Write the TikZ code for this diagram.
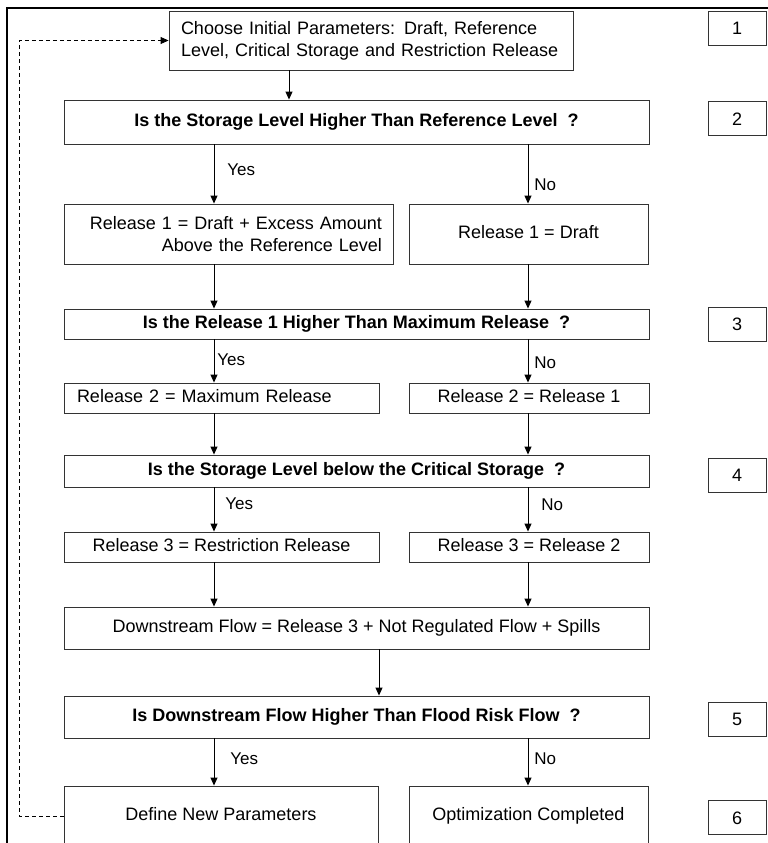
\documentclass[tikz,border=0pt]{standalone}
\usepackage{fontspec}
\setmainfont{Liberation Sans}
\usetikzlibrary{arrows.meta}

\begin{document}
\begin{tikzpicture}[x=1pt, y=-1pt,
      box/.style={draw=black!80, line width=0.9pt, fill=white,
        font=\fontsize{18}{22}\selectfont, inner xsep=12pt, inner ysep=0pt},
      cell/.style={box, text height=13pt, text depth=4pt},
      qbox/.style={cell, font=\fontsize{18}{22}\selectfont\bfseries, minimum width=585pt},
      numbox/.style={cell, text depth=0pt, minimum width=58pt, minimum height=34pt, inner sep=0pt},
      msg/.style={-{Triangle[length=8pt,width=7pt]}, line width=0.9pt, draw=black},
      back/.style={msg, dash pattern=on 4pt off 3pt},
      lbl/.style={font=\fontsize{17}{20}\selectfont, anchor=west, inner sep=0pt},
      frame/.style={line width=2.5pt, draw=black}
    ]
    \useasboundingbox (0,0) rectangle (768,843);
    \clip (0,0) rectangle (768,843);
    \fill[white] (0,0) rectangle (768,843);
    \draw[frame] (7,845) -- (7,8) -- (770,8);

    \node[box, text width=380pt, align=left, minimum height=59pt] (init) at (371,40.5)
      {Choose Initial Parameters: Draft, Reference\\Level, Critical Storage and Restriction Release};
    \node[qbox, minimum height=44pt] (q2) at (356.5,122)
      {Is the Storage Level Higher Than Reference Level\ \ ?};
    \node[box, text width=307pt, align=right, inner xsep=11pt, minimum height=60pt] (r1a) at (228.5,234)
      {Release 1 = Draft + Excess Amount\\Above the Reference Level};
    \node[cell, minimum width=239pt, minimum height=60pt] (r1b) at (528.5,234) {Release 1 = Draft};
    \node[qbox, minimum height=30pt] (q3) at (356.5,324)
      {Is the Release 1 Higher Than Maximum Release\ \ ?};
    \node[cell, text width=289pt, align=left, inner xsep=13pt, minimum height=30pt] (r2a) at (221.5,398)
      {Release 2 = Maximum Release};
    \node[cell, minimum width=240pt, minimum height=30pt] (r2b) at (529,398) {Release 2 = Release 1};
    \node[qbox, minimum height=32pt] (q4) at (356.5,471)
      {Is the Storage Level below the Critical Storage\ \ ?};
    \node[cell, minimum width=315pt, minimum height=30pt] (r3a) at (221.5,547) {Release 3 = Restriction Release};
    \node[cell, minimum width=240pt, minimum height=30pt] (r3b) at (529,547) {Release 3 = Release 2};
    \node[cell, minimum width=585pt, minimum height=42pt] (flow) at (356.5,628)
      {Downstream Flow = Release 3 + Not Regulated Flow + Spills};
    \node[qbox, minimum height=42pt] (q5) at (356.5,717)
      {Is Downstream Flow Higher Than Flood Risk Flow\ \ ?};
    \node[cell, minimum width=314pt, minimum height=60pt] (newp) at (221,816) {Define New Parameters};
    \node[cell, minimum width=239pt, minimum height=60pt] (done) at (528.5,816) {Optimization Completed};

    % step numbers on the right
    \foreach \n/\yy in {1/28, 2/118.5, 3/324, 4/475, 5/719, 6/817.5}
      \node[numbox] (n\n) at (737,\yy) {\n};

    \coordinate (c0) at (289,0);
    \coordinate (cy) at (214,0);
    \coordinate (cn) at (528,0);
    \coordinate (cm) at (379,0);
    \coordinate (cl) at (19,0);

    \draw[msg] (init.south -| c0) -- (q2.north -| c0);
    \draw[msg] (q2.south -| cy) -- node[lbl, pos=.43, xshift=13pt]{Yes} (r1a.north -| cy);
    \draw[msg] (q2.south -| cn) -- node[lbl, pos=.68, xshift=6pt]{No} (r1b.north -| cn);
    \draw[msg] (r1a.south -| cy) -- (q3.north -| cy);
    \draw[msg] (r1b.south -| cn) -- (q3.north -| cn);
    \draw[msg] (q3.south -| cy) -- node[lbl, pos=.48, xshift=3pt]{Yes} (r2a.north -| cy);
    \draw[msg] (q3.south -| cn) -- node[lbl, pos=.55, xshift=6pt]{No} (r2b.north -| cn);
    \draw[msg] (r2a.south -| cy) -- (q4.north -| cy);
    \draw[msg] (r2b.south -| cn) -- (q4.north -| cn);
    \draw[msg] (q4.south -| cy) -- node[lbl, pos=.38, xshift=11pt]{Yes} (r3a.north -| cy);
    \draw[msg] (q4.south -| cn) -- node[lbl, pos=.4, xshift=13pt]{No} (r3b.north -| cn);
    \draw[msg] (r3a.south -| cy) -- (flow.north -| cy);
    \draw[msg] (r3b.south -| cn) -- (flow.north -| cn);
    \draw[msg] (flow.south -| cm) -- (q5.north -| cm);
    \draw[msg] (q5.south -| cy) -- node[lbl, pos=.42, xshift=16pt]{Yes} (newp.north -| cy);
    \draw[msg] (q5.south -| cn) -- node[lbl, pos=.42, xshift=6pt]{No} (done.north -| cn);
    % loop back to the start
    \draw[back] (newp.west) -| (cl |- init.west) -- (init.west);
  \end{tikzpicture}
\end{document}
